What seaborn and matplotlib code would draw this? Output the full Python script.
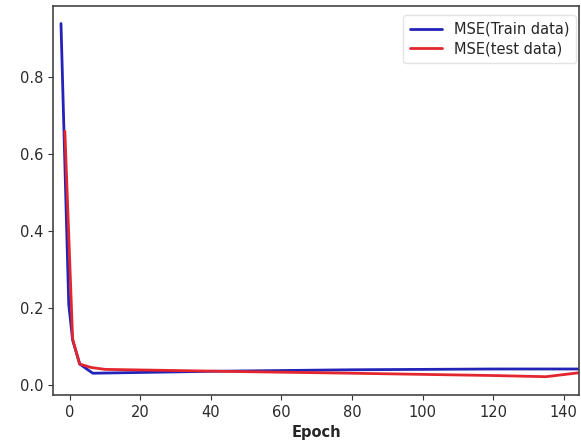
import matplotlib
matplotlib.use("Agg")
import matplotlib.pyplot as plt
import seaborn as sns
import pandas as pd

# Training curve: mean squared error per epoch
train_epochs = [-2.5, -0.3, 0.8, 2.8, 6.5, 20, 40, 60, 80, 100, 120, 145]
train_mse = [0.94, 0.21, 0.117, 0.055, 0.031, 0.033, 0.036, 0.038, 0.040, 0.041, 0.042, 0.042]

test_epochs = [-1.4, 0.8, 2.8, 6, 10, 30, 50, 80, 100, 120, 135, 145]
test_mse = [0.66, 0.12, 0.055, 0.046, 0.041, 0.038, 0.035, 0.031, 0.028, 0.025, 0.022, 0.033]

x_ticks = [0, 20, 40, 60, 80, 100, 120, 140]
y_ticks = [0.0, 0.2, 0.4, 0.6, 0.8]

sns.set_style("ticks")
plt.rcParams["font.family"] = ["DejaVu Sans"]

train_df = pd.DataFrame({"Epoch": train_epochs, "MSE": train_mse})
test_df = pd.DataFrame({"Epoch": test_epochs, "MSE": test_mse})

fig = plt.figure(figsize=(5.81, 4.43), dpi=100)
ax = fig.add_axes([0.091, 0.108, 0.906, 0.878])

sns.lineplot(data=train_df, x="Epoch", y="MSE", ax=ax, color="#2323b8",
             linewidth=2.0, label="MSE(Train data)", sort=False)
sns.lineplot(data=test_df, x="Epoch", y="MSE", ax=ax, color="#e3262e",
             linewidth=2.0, label="MSE(test data)", sort=False)

ax.set_xlim(-4.8, 144.4)
ax.set_ylim(-0.026, 0.985)
ax.set_xticks(x_ticks)
ax.set_yticks(y_ticks)
ax.tick_params(labelsize=10.5, colors="#333333", labelcolor="#2a2a2a")
ax.set_xlabel("Epoch", fontweight="bold", fontsize=10.5)
ax.set_ylabel("")
for s in ax.spines.values():
    s.set_visible(True)
    s.set_color("#444444")
    s.set_linewidth(1.2)

leg = ax.legend(loc="upper right", bbox_to_anchor=(0.993, 0.977),
                fontsize=10.5, frameon=True, handlelength=2.2,
                borderpad=0.45, labelspacing=0.3, borderaxespad=0.0)
leg.get_frame().set_edgecolor("#dddddd")

fig.savefig("out.png", dpi=100)
